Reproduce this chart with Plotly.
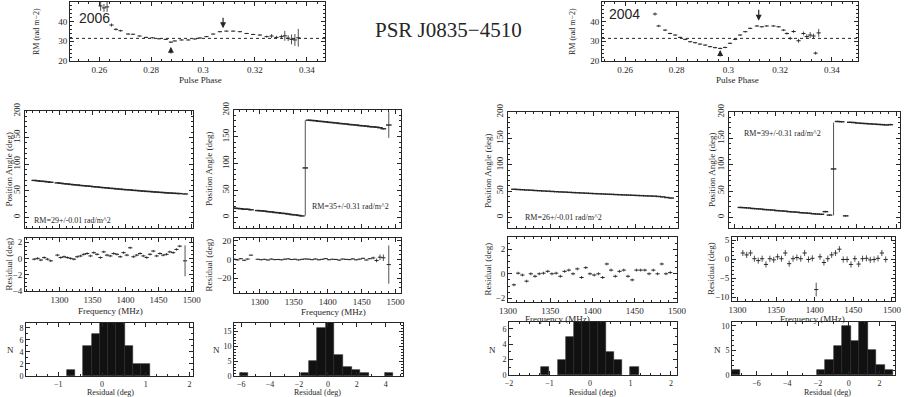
import plotly.graph_objects as go

W, H = 908, 397
INK = "#262626"
SERIF = "Liberation Serif"

# ---------------- RM versus pulse phase ----------------
phase_2006 = [0.2605, 0.2618, 0.2630, 0.2647, 0.2664, 0.2682, 0.2711, 0.2730, 0.2755, 0.2780,
              0.2805, 0.2830, 0.2856, 0.2876, 0.2891, 0.2917, 0.2943, 0.2968, 0.2988, 0.3013,
              0.3039, 0.3065, 0.3090, 0.3116, 0.3142, 0.3168, 0.3193, 0.3219, 0.3245, 0.3264,
              0.3283, 0.3302, 0.3315, 0.3328, 0.3341, 0.3354, 0.3367]
rm_2006 = [48.0, 47.0, 47.5, 38.3, 36.1, 35.4, 33.7, 33.6, 32.7, 32.0,
           31.8, 31.3, 31.0, 29.6, 30.2, 30.7, 30.7, 31.2, 31.7, 32.4,
           33.7, 34.9, 35.2, 35.2, 34.9, 34.0, 33.5, 33.2, 32.4, 32.7,
           32.0, 32.4, 32.8, 31.6, 31.0, 30.7, 31.8]
rm_err_2006 = [2.5, 2.0, 2.5, 0.8, 0.6, 0.5, 0.4, 0.3, 0.3, 0.3,
               0.3, 0.3, 0.3, 0.4, 0.3, 0.3, 0.3, 0.3, 0.3, 0.3,
               0.3, 0.3, 0.3, 0.3, 0.3, 0.3, 0.3, 0.4, 0.5, 1.0,
               0.8, 1.0, 2.5, 1.5, 2.5, 3.0, 4.5]

phase_2004 = [0.2716, 0.2730, 0.2755, 0.2774, 0.2794, 0.2813, 0.2833, 0.2852, 0.2871, 0.2890,
              0.2910, 0.2929, 0.2948, 0.2968, 0.2987, 0.3006, 0.3026, 0.3045, 0.3065, 0.3084,
              0.3110, 0.3129, 0.3148, 0.3174, 0.3194, 0.3213, 0.3226, 0.3239, 0.3252, 0.3271,
              0.3290, 0.3303, 0.3316, 0.3329, 0.3337, 0.3349]
rm_2004 = [43.9, 37.8, 35.7, 34.0, 33.2, 32.0, 31.0, 29.8, 29.3, 28.6,
           28.1, 27.3, 26.8, 26.4, 26.9, 29.0, 31.0, 33.2, 34.9, 36.6,
           37.8, 37.4, 37.8, 37.8, 37.4, 35.7, 34.0, 31.5, 35.0, 30.3,
           34.0, 32.4, 33.2, 32.7, 24.0, 34.3]
rm_err_2004 = [0.8, 0.6, 0.5, 0.4, 0.4, 0.4, 0.4, 0.4, 0.4, 0.4,
               0.4, 0.4, 0.4, 0.4, 0.4, 0.4, 0.4, 0.4, 0.4, 0.4,
               0.4, 0.4, 0.4, 0.4, 0.4, 0.5, 0.6, 0.8, 0.8, 1.0,
               1.0, 1.2, 1.5, 1.2, 0.8, 2.0]

rm_mean = 31.5
# phase, tail RM, head RM
arrows_2006 = [(0.3077, 42.8, 36.6), (0.2876, 23.0, 27.3)]
arrows_2004 = [(0.3117, 46.8, 40.5), (0.2968, 21.5, 25.6)]

# ---------------- position angle / residuals ----------------
freq_2006 = [1262, 1267, 1272, 1277, 1282, 1287, 1297, 1302, 1307, 1312, 1317, 1322, 1327, 1332,
             1337, 1342, 1347, 1352, 1357, 1362, 1367, 1372, 1377, 1382, 1387, 1392, 1397, 1402,
             1407, 1412, 1417, 1422, 1427, 1432, 1437, 1442, 1447, 1452, 1457, 1462, 1467, 1472,
             1477, 1482, 1490]
pa_2006_lo = [69.5, 68.8, 68.0, 67.6, 66.8, 66.0, 64.8, 64.2, 63.3, 62.8, 62.0, 61.3, 60.9, 60.0,
              59.6, 58.9, 58.4, 57.6, 57.2, 56.4, 55.9, 55.4, 54.6, 54.2, 53.5, 53.1, 52.4, 52.0,
              51.6, 50.8, 50.5, 49.9, 49.4, 48.8, 48.6, 47.9, 47.6, 47.0, 46.7, 46.1, 45.8, 45.4,
              45.0, 44.7, 44.0]
pa_err_2006_lo = [1.2] * 45
pa_2006_hi = [17.0, 16.5, 16.0, 15.0, 15.0, 14.0, 12.5, 12.0, 11.5, 10.5, 10.0, 9.0, 8.5, 7.5,
              7.0, 6.0, 5.0, 4.5, 3.5, 2.5, 92.0, 181.0, 180.5, 180.0, 179.0, 178.5, 178.0, 177.0,
              176.5, 176.0, 175.0, 174.5, 174.0, 173.0, 172.5, 172.0, 171.0, 170.5, 170.0, 169.0,
              168.5, 168.0, 167.0, 165.0, 172.0]
pa_err_2006_hi = [1.5] * 20 + [89.0] + [1.5] * 23 + [24.0]
res_2006_lo = [-0.1, 0.0, -0.2, 0.1, -0.1, -0.3, 0.4, 0.1, 0.2, 0.1, 0.0, -0.1, 0.2, 0.3,
               0.5, 0.6, 0.3, 0.7, 0.5, 0.1, 0.8, 0.4, 0.3, 0.6, 0.5, 0.2, 0.7, 0.4,
               1.3, 0.2, 0.4, 0.6, 0.3, 0.1, 0.5, 0.9, 0.3, 0.6, 0.4, 0.5, 0.8, 0.7,
               1.1, 1.5, -0.3]
res_err_2006_lo = [0.15] * 44 + [1.9]
res_2006_hi = [0.3, -0.5, 0.8, -0.9, 0.4, 4.6, 0.2, -0.3, 0.1, -0.6, 0.4, -0.2, 0.0, -0.4,
               0.3, 0.6, -0.1, 0.2, -0.5, 0.1, 0.5, 0.3, -0.2, 0.5, -0.4, 0.1, 0.9, -0.3,
               0.2, 0.0, -0.7, 0.4, 0.1, -0.2, 0.6, -0.4, 0.3, 1.2, -0.6, 0.8, 1.6, -1.1,
               2.4, 1.8, -5.5]
res_err_2006_hi = [0.6] * 40 + [1.5, 2.0, 3.0, 3.5, 20.5]

freq_2004 = [1307, 1312, 1317, 1322, 1327, 1332, 1337, 1342, 1347, 1352, 1357, 1362, 1367,
             1372, 1377, 1382, 1387, 1392, 1397, 1402, 1407, 1412, 1417, 1422, 1427, 1432,
             1437, 1442, 1447, 1452, 1457, 1462, 1467, 1472, 1477, 1482, 1487, 1492]
pa_2004_lo = [53.5, 53.0, 52.6, 52.0, 51.7, 51.1, 50.7, 50.2, 49.8, 49.3, 48.9, 48.4, 48.1,
              47.6, 47.2, 46.8, 46.4, 46.0, 45.6, 45.2, 44.9, 44.5, 44.1, 43.8, 43.4, 43.1,
              42.7, 42.4, 42.0, 41.7, 41.4, 41.0, 40.7, 40.4, 39.8, 39.0, 37.8, 36.8]
pa_err_2004_lo = [1.2] * 38
pa_2004_hi = [19.0, 18.5, 18.0, 17.0, 16.5, 16.0, 15.0, 14.5, 14.0, 13.0, 12.5, 12.0, 11.0,
              10.5, 10.0, 9.0, 8.5, 8.0, 7.0, 6.5, 6.0, 11.0, 4.5, 92.0, 182.0, 181.5,
              3.0, 180.5, 180.0, 179.0, 178.5, 178.0, 177.5, 177.0, 176.5, 176.0, 175.5, 176.0]
pa_err_2004_hi = [1.5] * 23 + [88.0] + [1.5] * 14
res_2004_lo = [-0.9, 0.05, -0.1, -0.6, 0.0, -0.2, 0.0, 0.05, 0.2, 0.0, 0.05, -0.2, 0.2,
               0.3, 0.0, 0.4, -0.3, 0.5, 0.0, -0.1, 0.0, -0.3, 0.8, 0.3, -0.2, 0.2,
               0.3, -0.2, -0.5, 0.3, 0.3, 0.3, 0.0, 0.3, 0.0, 0.8, 0.0, 0.1]
res_err_2004_lo = [0.12] * 38
res_2004_hi = [1.6, 1.1, 1.6, 0.1, -0.4, 0.1, -1.4, 0.1, -0.2, 0.6, 0.1, 1.6, -1.2,
               0.1, 0.4, 0.1, 1.6, -0.1, 0.2, -8.0, 0.6, -0.9, 0.1, 1.1, 1.6, 2.6,
               -0.1, -0.1, -1.4, 0.1, -1.3, 0.1, 0.2, -0.2, -0.1, 0.2, 1.6, -0.1]
res_err_2004_hi = [0.8] * 19 + [1.8] + [0.8] * 18

rm_labels = ["RM=29+/-0.01 rad/m^2", "RM=35+/-0.31 rad/m^2",
             "RM=26+/-0.01 rad/m^2", "RM=39+/-0.31 rad/m^2"]

# ---------------- residual histograms ----------------
hist_x_2006_lo = [-0.715, -0.335, -0.145, 0.045, 0.235, 0.425, 0.615, 0.805, 0.995]
hist_n_2006_lo = [1, 5, 7, 10, 10, 10, 5, 2, 2]
hist_x_2006_hi = [-5.8, -1.6, -1.0, -0.43, 0.16, 0.75, 1.34, 1.93, 2.52, 4.24]
hist_n_2006_hi = [1, 1, 5, 16, 19, 7, 3, 2, 1, 1]
hist_x_2004_lo = [-1.1, -0.7, -0.5, -0.3, -0.1, 0.1, 0.3, 0.5, 0.7, 1.1]
hist_n_2004_lo = [1, 2, 5, 8, 8, 8, 8, 3, 2, 1]
hist_x_2004_hi = [-7.35, -1.8, -1.25, -0.7, -0.15, 0.4, 0.95, 1.5, 2.05, 2.6]
hist_n_2004_hi = [1, 1, 3, 6, 10, 7, 12, 5, 2, 1]

fig = go.Figure()


def px_x(x):
    return x / W


def px_y(y):
    return 1 - y / H


def axes(n, box, xr, yr, xt, yt, xlab=True, xtext=None, ytext=None,
         xminor=None, yminor=None, yangle=0, fsize=9):
    l, r, t, b = box
    s = "" if n == 1 else str(n)
    common = dict(showline=True, mirror="ticks", linecolor=INK, linewidth=1,
                  ticks="inside", ticklen=4, tickwidth=1, tickcolor=INK,
                  showgrid=False, zeroline=False, automargin=False,
                  tickfont=dict(family=SERIF, size=fsize, color=INK))
    fig.layout["xaxis" + s] = dict(
        domain=[px_x(l), px_x(r)], range=xr, anchor="y" + s,
        tickmode="array", tickvals=xt, ticktext=xtext, showticklabels=xlab,
        minor=dict(ticks="inside", ticklen=2, tickcolor=INK, dtick=xminor, tick0=0)
        if xminor else None, **common)
    fig.layout["yaxis" + s] = dict(
        domain=[px_y(b), px_y(t)], range=yr, anchor="x" + s,
        tickmode="array", tickvals=yt, ticktext=ytext, tickangle=yangle,
        minor=dict(ticks="inside", ticklen=2, tickcolor=INK, dtick=yminor, tick0=0)
        if yminor else None, **common)


def points(n, x, y, err, size=4, lw=1.0):
    s = "" if n == 1 else str(n)
    fig.add_trace(go.Scatter(
        x=x, y=y, mode="markers", xaxis="x" + s, yaxis="y" + s,
        marker=dict(symbol="line-ew", size=size, color=INK, line=dict(width=lw, color=INK)),
        error_y=dict(type="data", array=err, width=0, thickness=0.8, color=INK)))


def bars(n, x, y, w):
    fig.add_trace(go.Bar(
        x=x, y=y, width=w, xaxis="x%d" % n, yaxis="y%d" % n,
        marker=dict(color="#111111", line=dict(color=INK, width=0.6))))


def label(x, y, text, size=9, angle=0, xanchor="center", family=SERIF):
    fig.add_annotation(x=px_x(x), y=px_y(y), xref="paper", yref="paper", text=text,
                       showarrow=False, textangle=angle, xanchor=xanchor, yanchor="middle",
                       font=dict(family=family, size=size, color=INK))


# --- top RM panels ---
phase_ticks = [0.26, 0.28, 0.30, 0.32, 0.34]
phase_text = ["0.26", "0.28", "0.3", "0.32", "0.34"]
axes(1, (70, 325, 2, 61), [0.2487, 0.347], [20, 50], phase_ticks, [20, 30, 40, 50],
     xtext=phase_text, xminor=0.004, yminor=2)
axes(2, (602, 858, 2, 61), [0.2511, 0.3501], [20, 50], phase_ticks, [20, 30, 40, 50],
     xtext=phase_text, xminor=0.004, yminor=2)
points(1, phase_2006, rm_2006, rm_err_2006, size=3)
points(2, phase_2004, rm_2004, rm_err_2004, size=3)
for n in (1, 2):
    s = "" if n == 1 else str(n)
    fig.add_shape(type="line", xref="x%s domain" % s, yref="y" + s, x0=0, x1=1,
                  y0=rm_mean, y1=rm_mean, line=dict(color=INK, width=1, dash="dot"))
for n, arr in ((1, arrows_2006), (2, arrows_2004)):
    s = "" if n == 1 else str(n)
    for ph, tail, head in arr:
        fig.add_annotation(x=ph, y=head, ax=ph, ay=tail, xref="x" + s, yref="y" + s,
                           axref="x" + s, ayref="y" + s, text="", showarrow=True,
                           arrowhead=2, arrowsize=1, arrowwidth=1.2, arrowcolor=INK)

label(77, 18, "2006", size=14, xanchor="left", family="Liberation Sans")
label(607, 14, "2004", size=14, xanchor="left", family="Liberation Sans")
label(37, 32, "RM (rad m−2)", angle=-90, size=8)
label(573, 32, "RM (rad m−2)", angle=-90, size=8)
label(200, 80, "Pulse Phase")
label(737, 80, "Pulse Phase")
label(448, 30, "PSR J0835−4510", size=21)

# --- PA / residual / histogram columns ---
columns = [
    dict(pa=(25, 193, 111, 228), res=(25, 193, 238, 291), hist=(26, 193, 323, 376),
         fr=[1248, 1502], freq=freq_2006, pa_y=pa_2006_lo, pa_e=pa_err_2006_lo,
         res_y=res_2006_lo, res_e=res_err_2006_lo, res_r=[-4, 2.5], res_t=[-4, -2, 0, 2],
         res_m=0.5, hx=hist_x_2006_lo, hn=hist_n_2006_lo, hw=0.19, hr=[-1.74, 2.08],
         hyr=[0, 8.8], hxt=[-1, 0, 1, 2], hyt=[0, 2, 4, 6, 8], hxm=0.25, hym=1,
         txt=(32, 220), ylab=9, flab=(110, 311), nlab=(10, 350), rlab=(110, 392)),
    dict(pa=(234, 401, 110, 228), res=(234, 401, 238, 293), hist=(234, 403, 323, 376),
         fr=[1262, 1508], freq=freq_2006, pa_y=pa_2006_hi, pa_e=pa_err_2006_hi,
         res_y=res_2006_hi, res_e=res_err_2006_hi, res_r=[-36, 23], res_t=[-20, 0, 20],
         res_m=5, hx=hist_x_2006_hi, hn=hist_n_2006_hi, hw=0.59, hr=[-6.5, 5.2],
         hyr=[0, 17.8], hxt=[-6, -4, -2, 0, 2, 4], hyt=[0, 5, 10, 15], hxm=1, hym=1,
         txt=(310, 206), ylab=209, flab=(333, 312), nlab=(216, 350), rlab=(317, 392)),
    dict(pa=(508, 678, 112, 228), res=(508, 677, 237, 302), hist=(509, 677, 322, 375),
         fr=[1300, 1500], freq=freq_2004, pa_y=pa_2004_lo, pa_e=pa_err_2004_lo,
         res_y=res_2004_lo, res_e=res_err_2004_lo, res_r=[-2.3, 3], res_t=[-2, 0, 2],
         res_m=0.5, hx=hist_x_2004_lo, hn=hist_n_2004_lo, hw=0.2, hr=[-2, 2.15],
         hyr=[0, 6.9], hxt=[-2, -1, 0, 1, 2], hyt=[0, 2, 4, 6], hxm=0.25, hym=1,
         txt=(523, 217), ylab=488, flab=(557, 319), nlab=(492, 350), rlab=(592, 392)),
    dict(pa=(729, 900, 112, 228), res=(732, 895, 237, 301), hist=(732, 895, 322, 375),
         fr=[1293, 1504], freq=freq_2004, pa_y=pa_2004_hi, pa_e=pa_err_2004_hi,
         res_y=res_2004_hi, res_e=res_err_2004_hi, res_r=[-11, 5.8], res_t=[-10, -5, 0, 5],
         res_m=1, hx=hist_x_2004_hi, hn=hist_n_2004_hi, hw=0.55, hr=[-7.6, 3.0],
         hyr=[0, 10.8], hxt=[-6, -4, -2, 0, 2], hyt=[0, 5, 10], hxm=1, hym=1,
         txt=(742, 133), ylab=712, flab=(812, 319), nlab=(717, 350), rlab=(827, 392)),
]
freq_ticks = [1300, 1350, 1400, 1450, 1500]

for i, c in enumerate(columns):
    n_pa, n_res, n_h = 3 + i, 7 + i, 11 + i
    axes(n_pa, c["pa"], c["fr"], [-20, 200], freq_ticks, [0, 50, 100, 150, 200],
         xlab=False, xminor=10, yminor=10, yangle=-90)
    axes(n_res, c["res"], c["fr"], c["res_r"], freq_ticks, c["res_t"],
         xminor=10, yminor=c["res_m"])
    axes(n_h, c["hist"], c["hr"], c["hyr"], c["hxt"], c["hyt"],
         xminor=c["hxm"], yminor=c["hym"], fsize=8)
    points(n_pa, c["freq"], c["pa_y"], c["pa_e"], size=4, lw=1.4)
    points(n_res, c["freq"], c["res_y"], c["res_e"], size=3)
    bars(n_h, c["hx"], c["hn"], c["hw"])

    tx, ty = c["txt"]
    label(tx, ty, rm_labels[i], size=8, xanchor="left")
    pl, pr, pt, pb = c["pa"]
    rl, rr, rt, rb = c["res"]
    label(c["ylab"], (pt + pb) / 2, "Position Angle (deg)", angle=-90, size=9)
    label(c["ylab"] - 1, (rt + rb) / 2, "Residual (deg)", angle=-90, size=9)
    label(*c["flab"], "Frequency (MHz)")
    label(*c["nlab"], "N")
    label(*c["rlab"], "Residual (deg)", size=8)

fig.update_layout(
    width=W, height=H,
    margin=dict(l=0, r=0, t=0, b=0),
    paper_bgcolor="white", plot_bgcolor="white",
    showlegend=False,
    bargap=0,
)

# the page's default body margin would push the fixed-size figure off the window
fig.write_html("out.html", config={"displayModeBar": False},
               post_script="document.body.style.margin = '0px';")
